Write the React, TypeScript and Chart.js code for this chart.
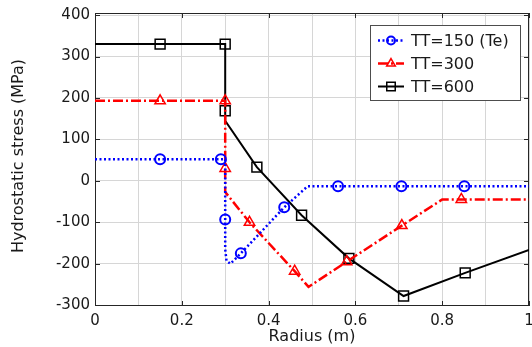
import { useEffect, useRef } from 'react';
import { Chart, registerables } from 'chart.js';

Chart.register(...registerables);

// TT=150 (Te)
const radius150 = [0, 0.15, 0.29, 0.3, 0.3, 0.3, 0.303, 0.312, 0.336, 0.436, 0.49, 0.56, 0.706, 0.851, 1];
const stress150 = [52, 52, 52, 52, -93, -165, -193, -200, -175, -64, -13, -13, -13, -13, -13];
const marks150 = [1, 2, 4, 8, 9, 11, 12, 13];

// TT=300
const radius300 = [0, 0.15, 0.3, 0.3, 0.3, 0.356, 0.46, 0.492, 0.58, 0.707, 0.8, 0.844, 1];
const stress300 = [193, 193, 193, 30, -27, -100, -218, -256, -195, -108, -45, -45, -45];
const marks300 = [1, 2, 3, 5, 6, 8, 9, 11];

// TT=600
const radius600 = [0, 0.15, 0.3, 0.3, 0.3, 0.373, 0.476, 0.585, 0.711, 0.853, 1];
const stress600 = [330, 330, 330, 169, 145, 33, -83, -187, -278, -222, -167];
const marks600 = [1, 2, 3, 5, 6, 7, 8, 9];

const seriesLabels = ['TT=150 (Te)', 'TT=300', 'TT=600'];

const xGridValues = [0, 0.1, 0.2, 0.3, 0.4, 0.5, 0.6, 0.7, 0.8, 0.9, 1];
const xTickValues = [0, 0.2, 0.4, 0.6, 0.8, 1];
const yTickValues = [-300, -200, -100, 0, 100, 200, 300, 400];

const yAxisTitle = 'Hydrostatic stress (MPa)';
const xAxisTitle = 'Radius (m)';

const FONT = '"DejaVu Sans", sans-serif';
const TEXT = '#1a1a1a';

const toPoints = (xs: number[], ys: number[]) => xs.map((x, i) => ({ x, y: ys[i] }));
const markerRadii = (n: number, marks: number[], r: number) =>
  Array.from({ length: n }, (_, i) => (marks.includes(i) ? r : 0));

function drawMarker(ctx: CanvasRenderingContext2D, style: string, x: number, y: number, r: number) {
  ctx.beginPath();
  if (style === 'circle') {
    ctx.arc(x, y, r, 0, Math.PI * 2);
  } else if (style === 'triangle') {
    for (let k = 0; k < 3; k++) {
      const a = (k * 2 * Math.PI) / 3;
      const px = x + Math.sin(a) * r;
      const py = y - Math.cos(a) * r;
      if (k === 0) ctx.moveTo(px, py);
      else ctx.lineTo(px, py);
    }
    ctx.closePath();
  } else {
    const s = r * Math.SQRT1_2;
    ctx.rect(x - s, y - s, 2 * s, 2 * s);
  }
  ctx.stroke();
}

// Plot frame with inward tick marks on all four sides, plus the vertical axis title
const framePlugin = {
  id: 'frame',
  beforeDatasetsDraw(chart: any) {
    const { ctx, chartArea: a, scales } = chart;
    const x = scales.x;
    const y = scales.y;
    ctx.save();
    ctx.strokeStyle = '#262626';
    ctx.lineWidth = 1;
    ctx.strokeRect(a.left + 0.5, a.top + 0.5, a.right - a.left - 1, a.bottom - a.top - 1);
    ctx.beginPath();
    const len = 5;
    for (const v of xTickValues) {
      const px = Math.round(x.getPixelForValue(v)) + 0.5;
      ctx.moveTo(px, a.bottom);
      ctx.lineTo(px, a.bottom - len);
      ctx.moveTo(px, a.top);
      ctx.lineTo(px, a.top + len);
    }
    for (const v of yTickValues) {
      const py = Math.round(y.getPixelForValue(v)) + 0.5;
      ctx.moveTo(a.left, py);
      ctx.lineTo(a.left + len, py);
      ctx.moveTo(a.right, py);
      ctx.lineTo(a.right - len, py);
    }
    ctx.stroke();

    ctx.translate(18.6, y.getPixelForValue(60));
    ctx.rotate(-Math.PI / 2);
    ctx.font = `16px ${FONT}`;
    ctx.fillStyle = TEXT;
    ctx.textAlign = 'center';
    ctx.textBaseline = 'middle';
    ctx.fillText(yAxisTitle, 0, 0);
    ctx.restore();
  },
};

// Legend box: line sample with its marker, then the label
const legendPlugin = {
  id: 'boxLegend',
  afterDraw(chart: any) {
    const { ctx, chartArea: a } = chart;
    const w = 150;
    const h = 75;
    const bx = a.right - 9 - w;
    const by = a.top + 12;
    ctx.save();
    ctx.fillStyle = '#ffffff';
    ctx.fillRect(bx, by, w, h);
    ctx.strokeStyle = '#4d4d4d';
    ctx.lineWidth = 1;
    ctx.strokeRect(bx + 0.5, by + 0.5, w, h);
    ctx.font = `16px ${FONT}`;
    ctx.textBaseline = 'middle';
    chart.data.datasets.forEach((ds: any, i: number) => {
      const cy = by + 15.5 + i * 23;
      ctx.strokeStyle = ds.borderColor;
      ctx.lineWidth = ds.borderWidth;
      ctx.setLineDash(ds.borderDash || []);
      ctx.beginPath();
      ctx.moveTo(bx + 8, cy);
      ctx.lineTo(bx + 34, cy);
      ctx.stroke();
      ctx.setLineDash([]);
      ctx.lineWidth = ds.pointBorderWidth;
      drawMarker(ctx, ds.pointStyle, bx + 21, cy, ds.legendMarkerRadius);
      ctx.fillStyle = TEXT;
      ctx.fillText(ds.label, bx + 41, cy + 1);
    });
    ctx.restore();
  },
};

export default function App() {
  const canvasRef = useRef<HTMLCanvasElement | null>(null);

  useEffect(() => {
    const canvas = canvasRef.current;
    if (!canvas) return;
    const chart = new Chart(canvas, {
      type: 'line',
      data: {
        datasets: [
          {
            label: seriesLabels[0],
            data: toPoints(radius150, stress150),
            borderColor: '#0000ff',
            borderWidth: 2.5,
            borderDash: [2, 2.5],
            pointStyle: 'circle',
            pointRadius: markerRadii(radius150.length, marks150, 5),
            pointBorderWidth: 2,
            pointBorderColor: '#0000ff',
            pointBackgroundColor: 'rgba(0,0,0,0)',
            legendMarkerRadius: 4,
          } as any,
          {
            label: seriesLabels[1],
            data: toPoints(radius300, stress300),
            borderColor: '#ff0000',
            borderWidth: 2.5,
            borderDash: [10, 3, 2, 3],
            pointStyle: 'triangle',
            pointRadius: markerRadii(radius300.length, marks300, 6),
            pointBorderWidth: 1.5,
            pointBorderColor: '#ff0000',
            pointBackgroundColor: 'rgba(0,0,0,0)',
            legendMarkerRadius: 5,
          } as any,
          {
            label: seriesLabels[2],
            data: toPoints(radius600, stress600),
            borderColor: '#000000',
            borderWidth: 2,
            pointStyle: 'rect',
            pointRadius: markerRadii(radius600.length, marks600, 7),
            pointBorderWidth: 1.5,
            pointBorderColor: '#000000',
            pointBackgroundColor: 'rgba(0,0,0,0)',
            legendMarkerRadius: 6,
          } as any,
        ],
      },
      options: {
        animation: false,
        responsive: false,
        devicePixelRatio: 1,
        layout: { padding: { top: 13, right: 3, left: 0, bottom: 0 } },
        plugins: {
          legend: { display: false },
          tooltip: { enabled: false },
        },
        elements: { line: { tension: 0 } },
        scales: {
          x: {
            type: 'linear',
            min: 0,
            max: 1,
            afterBuildTicks: (s: any) => {
              s.ticks = xGridValues.map((value) => ({ value }));
            },
            afterFit: (s: any) => {
              s.height = 41;
              s.paddingLeft = 0;
              s.paddingRight = 0;
            },
            ticks: {
              autoSkip: false,
              maxRotation: 0,
              padding: 6,
              color: TEXT,
              font: { family: FONT, size: 15 },
              callback: (v: any) => {
                const k = Math.round(Number(v) * 10);
                if (k % 2 !== 0) return '';
                return k === 0 ? '0' : k === 10 ? '1' : (k / 10).toString();
              },
            },
            grid: { color: '#d6d6d6', drawTicks: false, lineWidth: 1 },
            border: { display: false },
            title: {
              display: true,
              text: xAxisTitle,
              color: TEXT,
              font: { family: FONT, size: 16 },
              padding: { top: 0, bottom: 1 },
            },
          },
          y: {
            type: 'linear',
            min: -302,
            max: 405,
            afterBuildTicks: (s: any) => {
              s.ticks = yTickValues.map((value) => ({ value }));
            },
            afterFit: (s: any) => {
              s.width = 95;
              s.paddingTop = 0;
              s.paddingBottom = 0;
            },
            ticks: {
              padding: 5,
              color: TEXT,
              font: { family: FONT, size: 15 },
            },
            grid: { color: '#d6d6d6', drawTicks: false, lineWidth: 1 },
            border: { display: false },
          },
        },
      },
      plugins: [framePlugin, legendPlugin],
    });
    return () => chart.destroy();
  }, []);

  return (
    <div style={{ position: 'fixed', left: 0, top: 0, width: 532, height: 347, background: '#fff' }}>
      <canvas ref={canvasRef} width={532} height={347} />
    </div>
  );
}
